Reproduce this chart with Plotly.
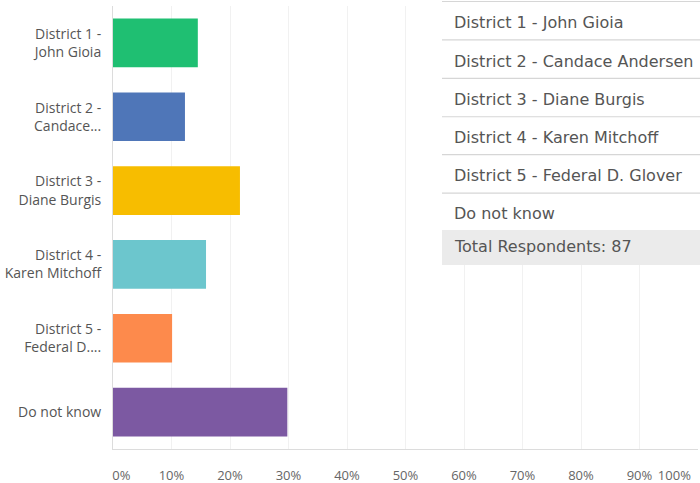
import plotly.graph_objects as go

# ---- data ----
categories = [
    "District 1 - John Gioia",
    "District 2 - Candace Andersen",
    "District 3 - Diane Burgis",
    "District 4 - Karen Mitchoff",
    "District 5 - Federal D. Glover",
    "Do not know",
]
axis_labels = [
    "District 1 -<br>John Gioia",
    "District 2 -<br>Candace...",
    "District 3 -<br>Diane Burgis",
    "District 4 -<br>Karen Mitchoff",
    "District 5 -<br>Federal D....",
    "Do not know",
]
values = [0.145, 0.123, 0.217, 0.159, 0.101, 0.298]
colors = ["#1fbf72", "#4f76b8", "#f7bd00", "#6cc6cd", "#fd8a4c", "#7c59a2"]
tick_vals = [0, 0.1, 0.2, 0.3, 0.4, 0.5, 0.6, 0.7, 0.8, 0.9, 1.0]
tick_text = ["\u00a0" * 5 + "0%", "10%", "20%", "30%", "40%", "50%",
             "60%", "70%", "80%", "90%", "100%" + "\u00a0" * 14]
total_label = "Total Respondents: 87"

W, H = 700, 483
L, R, T, B = 113, 2, 5.5, 33.5
PW, PH = W - L - R, H - T - B


def px_x(p):
    return (p - L) / PW


def px_y(p):
    return (H - B - p) / PH


fig = go.Figure()
fig.add_trace(go.Bar(
    y=axis_labels, x=values, orientation="h",
    marker=dict(color=colors, line=dict(width=0)),
    width=0.66, hoverinfo="skip",
))

# ---- overlaid table (cut-off respondents table) ----
shapes = []
annotations = []
row_centers = [22, 61, 99, 137, 175, 213]
row_lines = [1, 39.5, 78, 116.5, 154.5, 193]
tx0, tx1 = 442, 702
shapes.append(dict(type="rect", xref="paper", yref="paper",
                   x0=px_x(tx0), x1=px_x(tx1), y0=px_y(230), y1=px_y(0),
                   fillcolor="white", line=dict(width=0), layer="above"))
for yl in row_lines:
    shapes.append(dict(type="line", xref="paper", yref="paper",
                       x0=px_x(tx0), x1=px_x(tx1), y0=px_y(yl), y1=px_y(yl),
                       line=dict(color="#d6d6d6", width=1.2), layer="above"))
shapes.append(dict(type="rect", xref="paper", yref="paper",
                   x0=px_x(tx0), x1=px_x(tx1), y0=px_y(265), y1=px_y(230),
                   fillcolor="#ebebeb", line=dict(width=0), layer="above"))
table_font = dict(family="DejaVu Sans", size=16, color="#555555")
for name, yc in zip(categories, row_centers):
    annotations.append(dict(text=name, xref="paper", yref="paper",
                            x=px_x(452), y=px_y(yc), xanchor="left", yanchor="middle",
                            showarrow=False, font=table_font))
annotations.append(dict(text=total_label, xref="paper", yref="paper",
                        x=px_x(452), y=px_y(247), xanchor="left", yanchor="middle",
                        showarrow=False, font=table_font))

fig.update_layout(
    width=W, height=H,
    margin=dict(l=L, r=R, t=T, b=B, pad=0, autoexpand=False),
    paper_bgcolor="white", plot_bgcolor="white",
    showlegend=False,
    bargap=0.34,
    font=dict(family="Open Sans", color="#555555"),
    shapes=shapes, annotations=annotations,
)
fig.update_xaxes(
    range=[0, 1], tickvals=tick_vals, ticktext=tick_text,
    showgrid=True, gridcolor="#f1f1f1", gridwidth=1,
    showline=True, linecolor="#dcdcdc", linewidth=1,
    ticks="outside", ticklen=14, tickcolor="rgba(0,0,0,0)",
    tickfont=dict(family="Open Sans", size=13, color="#666666"),
    ticklabeloverflow="allow", automargin=False,
    zeroline=False, fixedrange=True,
)
fig.update_yaxes(
    autorange="reversed",
    showline=True, linecolor="#dcdcdc", linewidth=1,
    ticks="outside", ticklen=8, tickcolor="rgba(0,0,0,0)",
    tickfont=dict(family="Open Sans", size=14, color="#555555"),
    automargin=False,
    showgrid=False, fixedrange=True,
)

fig.write_html("out.html")
